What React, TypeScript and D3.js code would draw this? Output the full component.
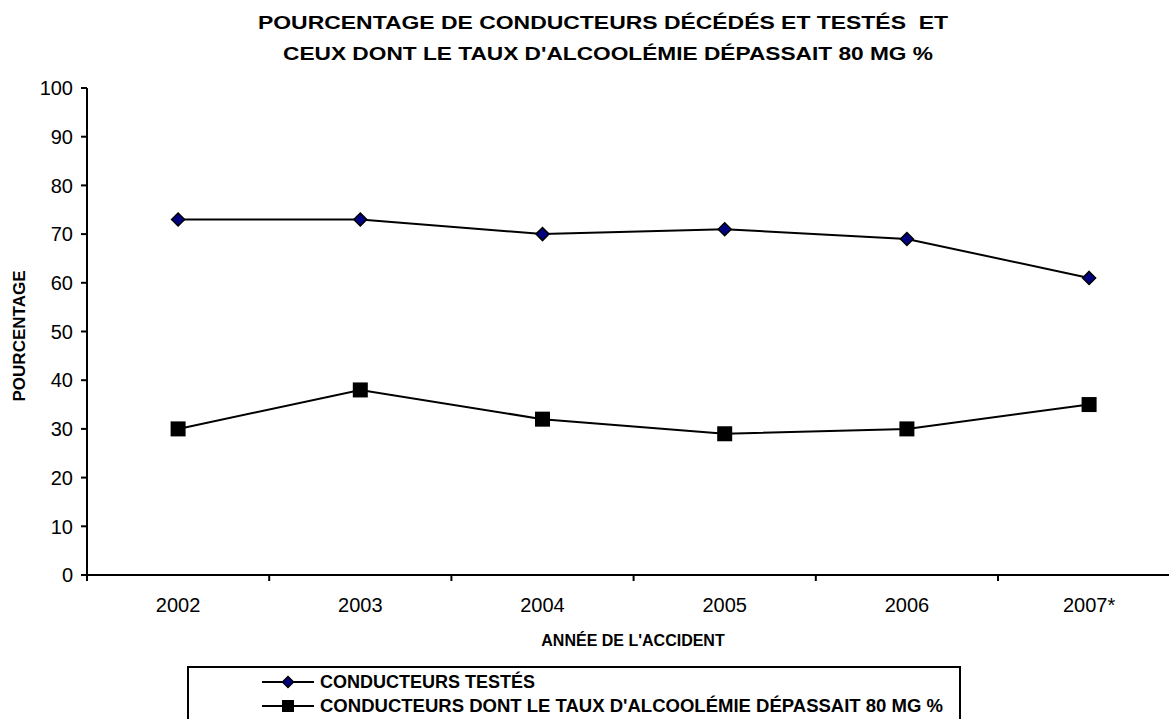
import React from "react";
import * as d3 from "d3";

const categories = ["2002", "2003", "2004", "2005", "2006", "2007*"];
const testedValues = [73, 73, 70, 71, 69, 61];
const alcoholValues = [30, 38, 32, 29, 30, 35];
const yTicks = [0, 10, 20, 30, 40, 50, 60, 70, 80, 90, 100];
const titleLines = [
  "POURCENTAGE DE CONDUCTEURS DÉCÉDÉS ET TESTÉS  ET",
  "CEUX DONT LE TAUX D'ALCOOLÉMIE DÉPASSAIT 80 MG %",
];
const legendLabels = [
  "CONDUCTEURS TESTÉS",
  "CONDUCTEURS DONT LE TAUX D'ALCOOLÉMIE DÉPASSAIT 80 MG %",
];

export default function App() {
  const W = 1169, H = 719;
  const x0 = 87, catW = 182.2;
  const x = d3.scaleBand().domain(categories).range([x0, x0 + catW * categories.length]);
  const y = d3.scaleLinear().domain([0, 100]).range([575, 88]);
  const cx = (c: string) => (x(c) as number) + x.bandwidth() / 2;
  const line = d3.line<number>().x((_, i) => cx(categories[i])).y((v) => y(v));
  const font = "Arial, 'Liberation Sans', sans-serif";
  const diamond = (px: number, py: number, r = 6.5) =>
    `M${px},${py - r}L${px + r},${py}L${px},${py + r}L${px - r},${py}Z`;

  return (
    <svg width={W} height={H} style={{ position: "absolute", left: 0, top: 0, background: "#fff" }} fontFamily={font}>
      <rect width={W} height={H} fill="#fff" />
      <text x={258} y={29} fontSize={19} fontWeight="bold" textLength={690} lengthAdjust="spacingAndGlyphs" style={{ whiteSpace: "pre" }}>{titleLines[0]}</text>
      <text x={283} y={60} fontSize={19} fontWeight="bold" textLength={650} lengthAdjust="spacingAndGlyphs">{titleLines[1]}</text>
      {/* y axis */}
      <line x1={x0} x2={x0} y1={y(100)} y2={y(0)} stroke="#000" strokeWidth={2} />
      {yTicks.map((t) => (
        <g key={t}>
          <line x1={x0 - 6} x2={x0} y1={y(t)} y2={y(t)} stroke="#000" strokeWidth={2} />
          <text x={73} y={y(t)} dy="0.36em" textAnchor="end" fontSize={20}>{t}</text>
        </g>
      ))}
      {/* x axis */}
      <line x1={x0} x2={x0 + catW * categories.length} y1={y(0)} y2={y(0)} stroke="#000" strokeWidth={2} />
      {d3.range(categories.length + 1).map((i) => (
        <line key={i} x1={x0 + i * catW} x2={x0 + i * catW} y1={y(0)} y2={y(0) + 6} stroke="#000" strokeWidth={2} />
      ))}
      {categories.map((c) => (
        <text key={c} x={cx(c)} y={612} textAnchor="middle" fontSize={20}>{c}</text>
      ))}
      <text x={633} y={646} textAnchor="middle" fontSize={16} fontWeight="bold">ANNÉE DE L'ACCIDENT</text>
      <text transform={`translate(25,336) rotate(-90)`} textAnchor="middle" fontSize={17} fontWeight="bold">POURCENTAGE</text>
      {/* series */}
      <path d={line(testedValues) as string} fill="none" stroke="#000" strokeWidth={2} />
      <path d={line(alcoholValues) as string} fill="none" stroke="#000" strokeWidth={2} />
      {testedValues.map((v, i) => (
        <path key={i} d={diamond(cx(categories[i]), y(v))} fill="#000080" stroke="#000" strokeWidth={1.5} />
      ))}
      {alcoholValues.map((v, i) => (
        <rect key={i} x={cx(categories[i]) - 7.5} y={y(v) - 7.5} width={15} height={15} fill="#000" />
      ))}
      {/* legend */}
      <rect x={188} y={667} width={772} height={60} fill="#fff" stroke="#000" strokeWidth={2} />
      <line x1={262} x2={314} y1={682} y2={682} stroke="#000" strokeWidth={2} />
      <path d={diamond(288, 682, 5.5)} fill="#000080" stroke="#000" strokeWidth={1.5} />
      <text x={320} y={688} fontSize={18} fontWeight="bold">{legendLabels[0]}</text>
      <line x1={262} x2={314} y1={706} y2={706} stroke="#000" strokeWidth={2} />
      <rect x={282} y={700} width={12} height={12} fill="#000" />
      <text x={320} y={712} fontSize={18} fontWeight="bold" textLength={623} lengthAdjust="spacingAndGlyphs">{legendLabels[1]}</text>
    </svg>
  );
}
